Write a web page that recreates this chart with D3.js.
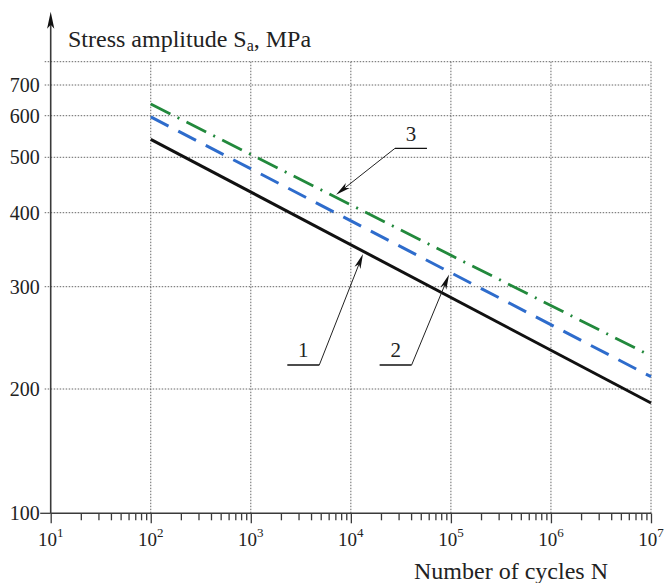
<!DOCTYPE html>
<html>
<head>
<meta charset="utf-8">
<script src="https://cdn.jsdelivr.net/npm/d3@7"></script>
<style>
body { margin: 0; background: #fff; }
text { font-family: "Liberation Serif", "Times New Roman", serif; fill: #222; }
</style>
</head>
<body>
<script>
// S-N curves (log N vs S, MPa)
var cycles = [1e2, 1e7];
var curve1 = [541, 185];
var curve2 = [597, 210];
var curve3 = [636, 228];

var xTicks = [1e1, 1e2, 1e3, 1e4, 1e5, 1e6, 1e7];
var xExponents = ['1', '2', '3', '4', '5', '6', '7'];
var yTicks = [100, 200, 300, 400, 500, 600, 700];
var yGrid = [200, 300, 400, 500, 600, 700, 800];

// callouts: which curve, where the arrow hits it, where the label shelf ends
var calloutText = ['1', '2', '3'];
var calloutCurve = [0, 1, 2];
var calloutTipN = [13500, 98000, 6800];
var calloutJointN = [4840, 40500, 27600];
var calloutJointS = [220, 220, 520];

var W = 665, H = 583;
var svg = d3.select('body').append('svg').attr('width', W).attr('height', H);

var x = d3.scaleLog().domain([1e1, 1e7]).range([50.7, 651]);
// the printed y axis is not an even log scale, so it is mapped piece by piece
var y = d3.scaleLog()
    .domain([100, 200, 300, 400, 500, 600, 700, 800])
    .range([513.3, 389, 286.7, 212.7, 157.3, 115.7, 85, 61.7]);

var x0 = x.range()[0], x1 = x.range()[1];
var yBase = y(100), yTop = y(800);

var grid = svg.append('g')
    .attr('stroke', '#666')
    .attr('stroke-width', 1)
    .attr('stroke-dasharray', '1.5,1.5');

grid.selectAll('.hg').data(yGrid).enter().append('line')
    .attr('x1', x0 - 6).attr('x2', x1)
    .attr('y1', function(d){ return y(d); })
    .attr('y2', function(d){ return y(d); });

grid.selectAll('.vg').data(xTicks.slice(1)).enter().append('line')
    .attr('x1', function(d){ return x(d); })
    .attr('x2', function(d){ return x(d); })
    .attr('y1', yTop).attr('y2', yBase);

// x axis: minor ticks then major ticks
var minor = [];
for (var e = 1; e < 7; e++) {
    for (var k = 2; k < 10; k++) minor.push(k * Math.pow(10, e));
}

var axisColor = '#3a3a3a';

var gx = svg.append('g').attr('transform', 'translate(0,' + yBase + ')');
gx.call(d3.axisBottom(x).tickValues(minor).tickSize(7).tickFormat(''));
gx.append('g').call(d3.axisBottom(x).tickValues(xTicks).tickSize(10).tickFormat(''));
gx.selectAll('.domain').remove();
gx.selectAll('line').attr('stroke', axisColor).attr('stroke-width', 1.3);
gx.append('line').attr('x1', x0).attr('x2', x1)
    .attr('stroke', axisColor).attr('stroke-width', 1.6);

var xl = svg.append('g');
xTicks.forEach(function(v, i){
    var t = xl.append('text')
        .attr('x', x(v)).attr('y', 545.7)
        .attr('text-anchor', 'middle')
        .attr('font-size', 19);
    t.append('tspan').text('10');
    t.append('tspan').attr('dy', -9).attr('font-size', 13).text(xExponents[i]);
});

// y axis
var gy = svg.append('g').attr('transform', 'translate(' + x0 + ',0)');
gy.call(d3.axisLeft(y).tickValues(yTicks).tickSize(0).tickPadding(11)
    .tickFormat(d3.format('d')));
gy.selectAll('.domain').remove();
gy.selectAll('text').attr('font-size', 20).style('font-family', '"Liberation Serif", serif').attr('fill', '#222');

svg.append('line')
    .attr('x1', x0 - 10.5).attr('x2', x0)
    .attr('y1', yBase).attr('y2', yBase)
    .attr('stroke', axisColor).attr('stroke-width', 1.3);

svg.append('line')
    .attr('x1', x0).attr('x2', x0)
    .attr('y1', 20).attr('y2', yBase)
    .attr('stroke', axisColor).attr('stroke-width', 1.6);

var tipY = 11.7;
svg.append('path')
    .attr('d', 'M' + x0 + ',' + tipY +
        ' L' + (x0 - 3.6) + ',' + (tipY + 17) +
        ' L' + x0 + ',' + (tipY + 13) +
        ' L' + (x0 + 3.6) + ',' + (tipY + 17) + ' Z')
    .attr('fill', '#111');

var yTitle = svg.append('text')
    .attr('x', 68).attr('y', 46.5)
    .attr('font-size', 24);
yTitle.append('tspan').text('Stress amplitude S');
yTitle.append('tspan').attr('font-size', 16).attr('dy', 4).text('a');
yTitle.append('tspan').attr('dy', -4).text(', MPa');

svg.append('text')
    .attr('x', 511).attr('y', 578.5)
    .attr('text-anchor', 'middle')
    .attr('font-size', 24)
    .text('Number of cycles N');

// curves
var series = [
    { values: curve1, color: '#111111', dash: null, width: 3 },
    { values: curve2, color: '#2e6ccc', dash: '20,11', width: 3 },
    { values: curve3, color: '#22893c', dash: '22,8,2,8', width: 2.8 }
];

var line = d3.line()
    .x(function(d){ return x(d[0]); })
    .y(function(d){ return y(d[1]); });

svg.selectAll('.curve').data(series).enter().append('path')
    .attr('d', function(s){ return line(d3.zip(cycles, s.values)); })
    .attr('fill', 'none')
    .attr('stroke', function(s){ return s.color; })
    .attr('stroke-width', function(s){ return s.width; })
    .attr('stroke-dasharray', function(s){ return s.dash; });

// callouts
function curveY(s, n) {
    var xa = x(cycles[0]), xb = x(cycles[1]);
    var ya = y(s.values[0]), yb = y(s.values[1]);
    var t = (x(n) - xa) / (xb - xa);
    return ya + t * (yb - ya);
}

var shelf = 32;
calloutText.forEach(function(txt, i){
    var s = series[calloutCurve[i]];
    var tx = x(calloutTipN[i]), ty = curveY(s, calloutTipN[i]);
    var jx = x(calloutJointN[i]), jy = y(calloutJointS[i]);
    var ang = Math.atan2(ty - jy, tx - jx);
    // stop on the edge of the thick curve
    tx -= 2.5 * Math.cos(ang);
    ty -= 2.5 * Math.sin(ang);

    var shelfLeft = i === 2 ? jx : jx - shelf;
    var g = svg.append('g');
    g.append('line')
        .attr('x1', shelfLeft).attr('x2', shelfLeft + shelf)
        .attr('y1', jy).attr('y2', jy)
        .attr('stroke', '#111').attr('stroke-width', 1.4);
    g.append('line')
        .attr('x1', jx).attr('y1', jy)
        .attr('x2', tx - 10 * Math.cos(ang)).attr('y2', ty - 10 * Math.sin(ang))
        .attr('stroke', '#222').attr('stroke-width', 1);
    g.append('path')
        .attr('d', 'M0,0 L-15,-3.2 L-11,0 L-15,3.2 Z')
        .attr('transform', 'translate(' + tx + ',' + ty + ') rotate(' + (ang * 180 / Math.PI) + ')')
        .attr('fill', '#111');
    g.append('text')
        .attr('x', shelfLeft + shelf / 2).attr('y', jy - 7.7)
        .attr('text-anchor', 'middle')
        .attr('font-size', 21)
        .text(txt);
});
</script>
</body>
</html>
